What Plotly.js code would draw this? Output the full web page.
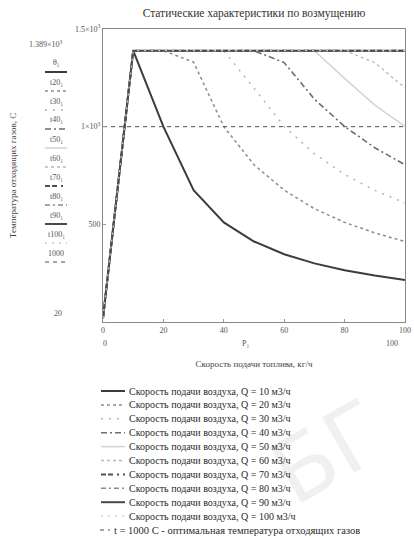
<!DOCTYPE html>
<html>
<head>
<meta charset="utf-8">
<script src="https://cdn.plot.ly/plotly-3.0.1.min.js"></script>
<style>html,body{margin:0;padding:0;background:#fff;}#chart{width:414px;height:538px;}</style>
</head>
<body>
<div id="chart"></div>
<script>
// ---- data ----
const fuelRate = [0, 10, 20, 30, 40, 50, 60, 70, 80, 90, 100];
const airQ = [10, 20, 30, 40, 50, 60, 70, 80, 90, 100];
const tQ10  = [20, 1389, 1000, 675, 510, 412, 347, 300, 265, 238, 215];
const tQ20  = [20, 1389, 1389, 1330, 1000, 805, 675, 580, 510, 456, 412];
const tQ30  = [20, 1389, 1389, 1389, 1389, 1197, 1001, 861, 756, 674, 609];
const tQ40  = [20, 1389, 1389, 1389, 1389, 1389, 1328, 1141, 1001, 892, 805];
const tQ50  = [20, 1389, 1389, 1389, 1389, 1389, 1389, 1389, 1247, 1110, 1001];
const tQ60  = [20, 1389, 1389, 1389, 1389, 1389, 1389, 1389, 1389, 1328, 1198];
const tQ70  = [20, 1389, 1389, 1389, 1389, 1389, 1389, 1389, 1389, 1389, 1389];
const tQ80  = [20, 1389, 1389, 1389, 1389, 1389, 1389, 1389, 1389, 1389, 1389];
const tQ90  = [20, 1389, 1389, 1389, 1389, 1389, 1389, 1389, 1389, 1389, 1389];
const tQ100 = [20, 1389, 1389, 1389, 1389, 1389, 1389, 1389, 1389, 1389, 1389];
const tOptimal = [1000, 1000, 1000, 1000, 1000, 1000, 1000, 1000, 1000, 1000, 1000];
const exprNames = ['θ₁', 't20₁', 't30₁', 't40₁', 't50₁', 't60₁', 't70₁', 't80₁', 't90₁', 't100₁', '1000'];
const yTickVals = [500, 1000, 1500];
const yTickText = ['500', '1×10<sup>3</sup>', '1.5×10<sup>3</sup>'];
const xTickVals = [0, 20, 40, 60, 80, 100];
const titleText = 'Статические характеристики по возмущению';
const xTitle = 'Скорость подачи топлива, кг/ч';
const yTitle = 'Температура отходящих газов, С';
const optName = 't = 1000 С - оптимальная температура отходящих газов';

// ---- styles ----
const series = [tQ10, tQ20, tQ30, tQ40, tQ50, tQ60, tQ70, tQ80, tQ90, tQ100, tOptimal];
const styles = [
  {c: '#3c3c3c', w: 2,   d: 'solid'},
  {c: '#8c8c8c', w: 1.5, d: 'dot'},
  {c: '#b4b4b4', w: 1.5, d: '2px,6px'},
  {c: '#6e6e6e', w: 1.6, d: '6px,3px,2px,3px'},
  {c: '#d4d4d4', w: 1.5, d: 'solid'},
  {c: '#b8b8b8', w: 1.3, d: 'dot'},
  {c: '#505050', w: 2,   d: '5px,2px,5px,4px,2px,4px'},
  {c: '#8a8a8a', w: 1.5, d: '5px,3px,2px,3px'},
  {c: '#4a4a4a', w: 2,   d: 'solid'},
  {c: '#cccccc', w: 1.3, d: '2px,5px'},
  {c: '#505050', w: 1,   d: '4px,4px'}
];
const names = airQ.map(q => 'Скорость подачи воздуха, Q = ' + q + ' м3/ч').concat([optName]);

const traces = series.map((s, i) => ({
  x: fuelRate, y: s, type: 'scatter', mode: 'lines', name: names[i],
  line: {color: styles[i].c, width: styles[i].w, dash: styles[i].d},
  showlegend: false, hoverinfo: 'skip'
}));

// plot area in pixels
const L = 103, R = 405, T = 29, B = 322;
const px = p => (p - L) / (R - L);
const py = p => (B - p) / (B - T);
const FONT = '"Liberation Serif", "Times New Roman", serif';

const shapes = [];
const annotations = [];

// manual legend
names.forEach((n, i) => {
  const yy = 391 + i * 13.9;
  const last = i === names.length - 1;
  shapes.push({type: 'line', xref: 'paper', yref: 'paper',
    x0: px(last ? 100 : 101), x1: px(last ? 110 : 125), y0: py(yy), y1: py(yy),
    line: {color: styles[i].c, width: styles[i].w, dash: styles[i].d}});
  annotations.push({xref: 'paper', yref: 'paper', x: px(last ? 112 : 127), y: py(yy),
    xanchor: 'left', yanchor: 'middle', showarrow: false, text: n,
    font: {family: FONT, size: last ? 10.5 : 10, color: '#2a2a2a'}});
});

// left expression column
exprNames.forEach((n, i) => {
  const yy = 63 + i * 19;
  annotations.push({xref: 'paper', yref: 'paper', x: px(56), y: py(yy),
    xanchor: 'center', yanchor: 'middle', showarrow: false, text: n,
    font: {family: FONT, size: 8, color: '#555555'}});
  shapes.push({type: 'line', xref: 'paper', yref: 'paper',
    x0: px(45), x1: px(67), y0: py(yy + 9), y1: py(yy + 9),
    line: {color: styles[i].c, width: styles[i].w, dash: styles[i].d}});
});
annotations.push({xref: 'paper', yref: 'paper', x: px(46), y: py(44), xanchor: 'center', yanchor: 'middle',
  showarrow: false, text: '1.389×10<sup>3</sup>', font: {family: FONT, size: 8, color: '#555555'}});
annotations.push({xref: 'paper', yref: 'paper', x: px(58), y: py(313), xanchor: 'center', yanchor: 'middle',
  showarrow: false, text: '20', font: {family: FONT, size: 8, color: '#555555'}});
// x limit row
[['0', 105], ['P₁', 245], ['100', 392]].forEach(a => {
  annotations.push({xref: 'paper', yref: 'paper', x: px(a[1]), y: py(343), xanchor: 'center', yanchor: 'middle',
    showarrow: false, text: a[0], font: {family: FONT, size: 8, color: '#555555'}});
});
// watermark
annotations.push({xref: 'paper', yref: 'paper', x: px(328), y: py(452), xanchor: 'center', yanchor: 'middle',
  showarrow: false, text: 'БГ', textangle: -30,
  font: {family: '"DejaVu Sans", sans-serif', size: 88, color: 'rgba(0,0,0,0.06)'}});

const layout = {
  width: 414, height: 538,
  margin: {l: L, r: 414 - R, t: T, b: 538 - B},
  paper_bgcolor: '#fff', plot_bgcolor: '#fff',
  font: {family: FONT, size: 8, color: '#555'},
  title: {text: titleText, x: 254 / 414, xanchor: 'center', y: 1 - 13 / 538, yanchor: 'middle',
    font: {family: FONT, size: 11.5, color: '#333'}},
  xaxis: {range: [0, 100], tickvals: xTickVals, showgrid: false, zeroline: false,
    showline: true, mirror: true, linecolor: '#888', linewidth: 1,
    ticks: 'inside', ticklen: 3, tickcolor: '#999',
    tickfont: {family: FONT, size: 8, color: '#555'},
    title: {text: xTitle, standoff: 27, font: {family: FONT, size: 9, color: '#444'}}},
  yaxis: {range: [0, 1500], tickvals: yTickVals, ticktext: yTickText, showgrid: false, zeroline: false,
    showline: true, mirror: true, linecolor: '#888', linewidth: 1,
    ticks: 'inside', ticklen: 3, tickcolor: '#999',
    tickfont: {family: FONT, size: 8, color: '#555'},
    title: {text: yTitle, standoff: 56, font: {family: FONT, size: 9, color: '#444'}}},
  shapes: shapes,
  annotations: annotations
};

Plotly.newPlot('chart', traces, layout, {staticPlot: true, displayModeBar: false});
</script>
</body>
</html>
